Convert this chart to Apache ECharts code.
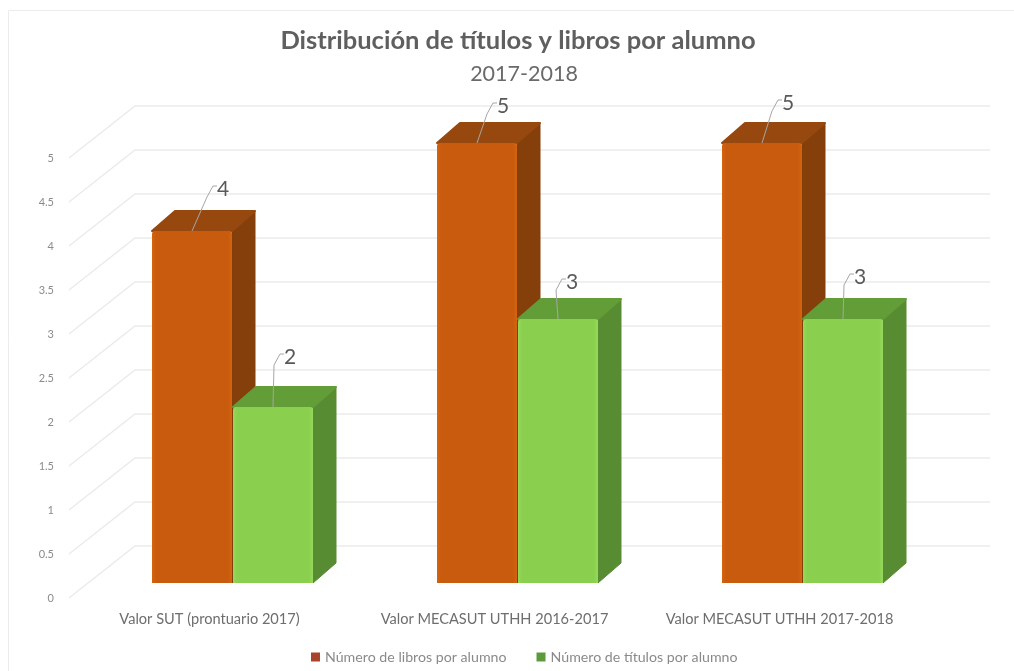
<!DOCTYPE html>
<html><head><meta charset="utf-8">
<style>html,body{margin:0;padding:0;background:#fff}#c{width:1014px;height:671px}</style>
<script src="https://cdn.jsdelivr.net/npm/echarts@6/dist/echarts.min.js"></script>
</head><body><div id="c"></div>
<script>
const categories = ['Valor SUT (prontuario 2017)', 'Valor MECASUT UTHH 2016-2017', 'Valor MECASUT UTHH 2017-2018'];
const libros = [4, 5, 5];
const titulos = [2, 3, 3];
const yTicks = [0, 0.5, 1, 1.5, 2, 2.5, 3, 3.5, 4, 4.5, 5];

const DEPTH = [23, -20], WALL = [66, -52], BAR_W = 80, FRONT_LIFT = -15;
const WALL_RIGHT = 990;
const FONT = 'Lato, sans-serif';
const librosLabelShift = [[31, -42], [26, -37], [26, -40]];
const titulosLabelShift = [[17, -50], [14, -37], [17, -42]];

function barSeries(name, data, xShift, c, labelShift) {
  return {
    name, type: 'custom', data, itemStyle: {color: c.legend}, z: 3,
    encode: {x: 0, y: 1},
    renderItem(params, api) {
      const i = api.value(0), v = api.value(1);
      const top = api.coord([i, v]), base = api.coord([i, 0]);
      const x0 = top[0] + xShift, x1 = x0 + BAR_W;
      const yT = top[1] + FRONT_LIFT, yB = base[1] + FRONT_LIFT;
      const dx = DEPTH[0], dy = DEPTH[1];
      const mid = (x0 + x1) / 2;
      const sh = labelShift[i];
      const lx = mid + sh[0], ly = yT + sh[1];
      return {type: 'group', children: [
        {type: 'polygon', shape: {points: [[x1, yT], [x1 + dx, yT + dy], [x1 + dx, yB + dy], [x1, yB]]},
          style: {fill: c.side, stroke: c.side, lineWidth: 1, lineJoin: 'round'}},
        {type: 'polygon', shape: {points: [[x0, yT], [x0 + dx, yT + dy], [x1 + dx, yT + dy], [x1, yT]]},
          style: {fill: c.top, stroke: c.top, lineWidth: 2, lineJoin: 'round'}},
        {type: 'rect', shape: {x: x0, y: yT, width: BAR_W, height: yB - yT, r: [3, 3, 0, 0]},
          style: {fill: {type: 'linear', x: 0, y: 0, x2: 1, y2: 0, colorStops: [
            {offset: 0, color: c.edge}, {offset: 0.05, color: c.front},
            {offset: 0.95, color: c.front}, {offset: 1, color: c.edge}]}}},
        {type: 'polyline', shape: {points: [[mid, yT], [lx - 16, ly + 8], [lx - 10, ly - 3], [lx - 6, ly - 3]]},
          style: {fill: 'none', stroke: '#a6a6a6', lineWidth: 1}},
        {type: 'text', x: lx, y: ly, style: {text: String(v), fill: '#595959',
          font: '21px ' + FONT, align: 'center', verticalAlign: 'middle'}}
      ]};
    }
  };
}

const chart = echarts.init(document.getElementById('c'), null, {renderer: 'canvas'});
chart.setOption({
  animation: false,
  backgroundColor: '#fff',
  title: [
    {text: 'Distribución de títulos y libros por alumno', left: 513, top: 23, textAlign: 'center',
      textStyle: {fontFamily: FONT, fontSize: 25.5, fontWeight: 'bold', color: '#5f5f5f'}},
    {text: '2017-2018', left: 519, top: 58, textAlign: 'center',
      textStyle: {fontFamily: FONT, fontSize: 21.5, fontWeight: 'normal', color: '#6a6a6a'}}
  ],
  graphic: [{type: 'polyline', silent: true, z: -1, shape: {points: [[8.5, 671], [8.5, 10.5], [1014, 10.5]]},
    style: {fill: 'none', stroke: '#ececec', lineWidth: 1}}],
  grid: {left: 67, width: 855, top: 158, height: 440},
  legend: {
    data: ['Número de libros por alumno', 'Número de títulos por alumno'],
    left: 306, top: 645, itemWidth: 9, itemHeight: 9, itemGap: 30, icon: 'rect',
    textStyle: {fontFamily: FONT, fontSize: 14.2, color: '#8a8a8a'}
  },
  xAxis: {type: 'category', data: categories, axisLine: {show: false}, axisTick: {show: false},
    axisLabel: {margin: 14, fontFamily: FONT, fontSize: 14.6, color: '#6e6e6e', interval: 0}},
  yAxis: {type: 'value', min: 0, max: 5, interval: 0.5, splitLine: {show: false}, axisLine: {show: false}, axisTick: {show: false},
    axisLabel: {margin: 13, fontFamily: FONT, fontSize: 11, color: '#8c8c8c'}},
  series: [
    {
      name: 'grid', type: 'custom', data: yTicks.map(v => [0, v]), silent: true, z: 1,
      encode: {x: 0, y: 1},
      renderItem(params, api) {
        const p = api.coord([0, api.value(1)]);
        const sys = params.coordSys;
        const x = sys.x + 2, y = p[1];
        return {type: 'polyline', shape: {points: [[x, y], [x + WALL[0], y + WALL[1]], [WALL_RIGHT, y + WALL[1]]]},
          style: {fill: 'none', stroke: '#ebebeb', lineWidth: 1.4}};
      }
    },
    barSeries('Número de libros por alumno', libros.map((v, i) => [i, v]), -57.5,
      {front: '#C95B0E', top: '#97480F', side: '#843F0B', edge: '#D5640F', legend: '#A8442A'}, librosLabelShift),
    barSeries('Número de títulos por alumno', titulos.map((v, i) => [i, v]), 23.5,
      {front: '#8AD04E', top: '#639D38', side: '#588C32', edge: '#96D95B', legend: '#5C9A3C'}, titulosLabelShift)
  ]
});
</script></body></html>
